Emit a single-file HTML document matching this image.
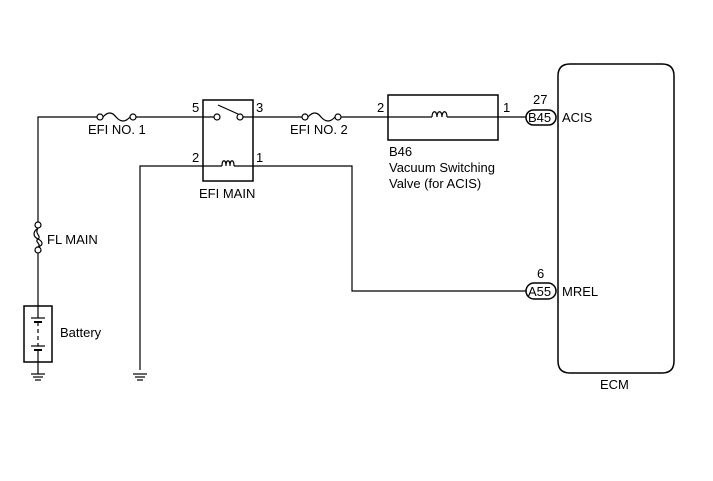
<!DOCTYPE html>
<html><head><style>
html,body{margin:0;padding:0;background:#fff;}
svg{display:block;}
text{font-family:"Liberation Sans",Arial,sans-serif;font-size:13px;fill:#000;}
</style></head><body>
<svg width="713" height="481" viewBox="0 0 713 481" xmlns="http://www.w3.org/2000/svg">
<g stroke="#000" stroke-width="1.2" fill="none">
<!-- top line left -->
<polyline points="38,222 38,117 97,117"/>
<path d="M103,117 q7,-8 13,0 q7,8 14,0"/>
<circle cx="100" cy="117" r="3" fill="#fff"/>
<circle cx="133" cy="117" r="3" fill="#fff"/>
<line x1="136" y1="117" x2="214" y2="117"/>
<!-- relay -->
<rect x="203" y="100" width="50" height="81" stroke-width="1.5"/>
<circle cx="217" cy="117" r="3" fill="#fff"/>
<circle cx="240" cy="117" r="3" fill="#fff"/>
<line x1="218" y1="105" x2="238" y2="114"/>
<line x1="243" y1="117" x2="302" y2="117"/>
<path d="M308,117 q7,-8 13,0 q7,8 14,0"/>
<circle cx="305" cy="117" r="3" fill="#fff"/>
<circle cx="338" cy="117" r="3" fill="#fff"/>
<line x1="341" y1="117" x2="432" y2="117"/>
<path d="M432,117 c0,-7 5,-7 5,0 c0,-7 5,-7 5,0 c0,-7 5,-7 5,0"/>
<line x1="447" y1="117" x2="526" y2="117"/>
<rect x="388" y="95" width="110" height="45" stroke-width="1.5"/>
<!-- coil line -->
<polyline points="140,370 140,166 222,166"/>
<path d="M222,166 c0,-7 4,-7 4,0 c0,-7 4,-7 4,0 c0,-7 4,-7 4,0"/>
<polyline points="234,166 352,166 352,291 526,291"/>
<!-- FL MAIN -->
<circle cx="38" cy="225" r="3" fill="#fff"/>
<circle cx="38" cy="250" r="3" fill="#fff"/>
<path d="M38,228 c-8,6 -2,10 0,11 c2,1 8,5 0,8 M38,228 c-4,6 4,8 0,11 c-4,3 4,5 0,8"/>
<line x1="38" y1="253" x2="38" y2="306"/>
<!-- battery -->
<rect x="24" y="306" width="28" height="56" stroke-width="1.5"/>
<line x1="38" y1="306" x2="38" y2="318"/>
<line x1="31" y1="318" x2="45" y2="318"/>
<line x1="34" y1="322" x2="42" y2="322" stroke-width="2"/>
<line x1="38" y1="322" x2="38" y2="346" stroke-dasharray="4,3"/>
<line x1="31" y1="346" x2="45" y2="346"/>
<line x1="34" y1="350" x2="42" y2="350" stroke-width="2"/>
<line x1="38" y1="350" x2="38" y2="374"/>
<line x1="31" y1="374" x2="45" y2="374"/>
<line x1="33" y1="377" x2="43" y2="377"/>
<line x1="35" y1="380" x2="41" y2="380"/>
<line x1="133" y1="374" x2="147" y2="374"/>
<line x1="135" y1="377" x2="145" y2="377"/>
<line x1="137" y1="380" x2="143" y2="380"/>
<!-- ECM -->
<path d="M570,64 H662 Q674,64 674,76 V361 Q674,373 662,373 H570 Q558,373 558,361 V76 Q558,64 570,64 Z" stroke-width="1.5"/>
<rect x="526" y="110" width="30" height="15" rx="7.5" stroke-width="1.5" fill="#fff"/>
<rect x="526" y="283" width="30" height="16" rx="8" stroke-width="1.5" fill="#fff"/>
</g>
<text x="88" y="134">EFI NO. 1</text>
<text x="192" y="112">5</text>
<text x="256" y="112">3</text>
<text x="192" y="162">2</text>
<text x="256" y="162">1</text>
<text x="199" y="198">EFI MAIN</text>
<text x="290" y="134">EFI NO. 2</text>
<text x="377" y="112">2</text>
<text x="503" y="112">1</text>
<text x="389" y="156">B46</text>
<text x="389" y="172">Vacuum Switching</text>
<text x="389" y="188">Valve (for ACIS)</text>
<text x="533" y="104">27</text>
<text x="528" y="122">B45</text>
<text x="562" y="122">ACIS</text>
<text x="537" y="278">6</text>
<text x="528" y="296">A55</text>
<text x="562" y="296">MREL</text>
<text x="600" y="389">ECM</text>
<text x="47" y="244">FL MAIN</text>
<text x="60" y="337">Battery</text>
</svg>
</body></html>
